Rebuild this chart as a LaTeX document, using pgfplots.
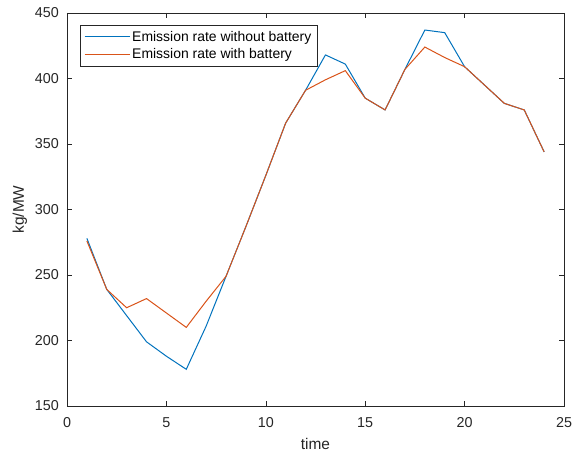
\documentclass[border=0pt]{standalone}
\usepackage{fontspec}
\setmainfont{Liberation Sans}
\usepackage{pgfplots}
\pgfplotsset{compat=1.18}
\definecolor{mblue}{rgb}{0,0.447,0.741}
\definecolor{morange}{rgb}{0.85,0.325,0.098}
\definecolor{axgray}{rgb}{0.15,0.15,0.15}

\begin{document}
\begin{tikzpicture}
\begin{axis}[
scale only axis,
width=497bp, height=393bp,
xmin=0, xmax=25, ymin=150, ymax=450,
xtick={0,5,...,25}, ytick={150,200,...,450},
tick align=inside,
major tick length=5bp,
axis line style={axgray, line width=0.6bp},
every tick/.style={axgray, line width=0.6bp},
ticklabel style={text=axgray, font=\fontsize{14.4}{16}\selectfont},
xticklabel style={anchor=center, yshift=-17bp},
yticklabel style={anchor=east, inner sep=0pt, xshift=-8bp},
/pgf/number format/assume math mode=true,
xlabel={time}, ylabel={kg/MW},
label style={text=axgray, font=\fontsize{15.5}{17}\selectfont},
xlabel style={at={(axis description cs:0.5,-0.0967)}, anchor=center},
ylabel style={at={(axis description cs:-0.0946,0.5)}, anchor=center},
legend style={at={(0.026,0.97)}, anchor=north west, draw=black!85, line width=0.6bp,
  inner xsep=4bp, inner ysep=4bp, row sep=2bp, font=\fontsize{14}{15}\selectfont},
legend cell align=left,
legend image code/.code={\draw[line width=1bp, #1] (0bp,0bp) -- (45bp,0bp);},
]
\addplot[color=mblue, line width=1bp] coordinates {
(1,278) (2,239) (3,219) (4,199) (5,188) (6,178) (7,211) (8,249)
(9,287) (10,326) (11,366) (12,391) (13,418) (14,411) (15,385) (16,376)
(17,407) (18,437) (19,435) (20,409) (21,395) (22,381) (23,376) (24,344)
};
\addlegendentry{Emission rate without battery}
\addplot[color=morange, line width=1bp] coordinates {
(1,276) (2,239) (3,225) (4,232) (5,221) (6,210) (7,230) (8,249)
(9,287) (10,326) (11,366) (12,391) (13,399) (14,406) (15,385) (16,376)
(17,407) (18,424) (19,416) (20,409) (21,395) (22,381) (23,376) (24,344)
};
\addlegendentry{Emission rate with battery}
\end{axis}
\useasboundingbox (current axis.south west) ++(-67bp,-50bp) rectangle ([shift={(19bp,13bp)}]current axis.north east);
\end{tikzpicture}
\end{document}
